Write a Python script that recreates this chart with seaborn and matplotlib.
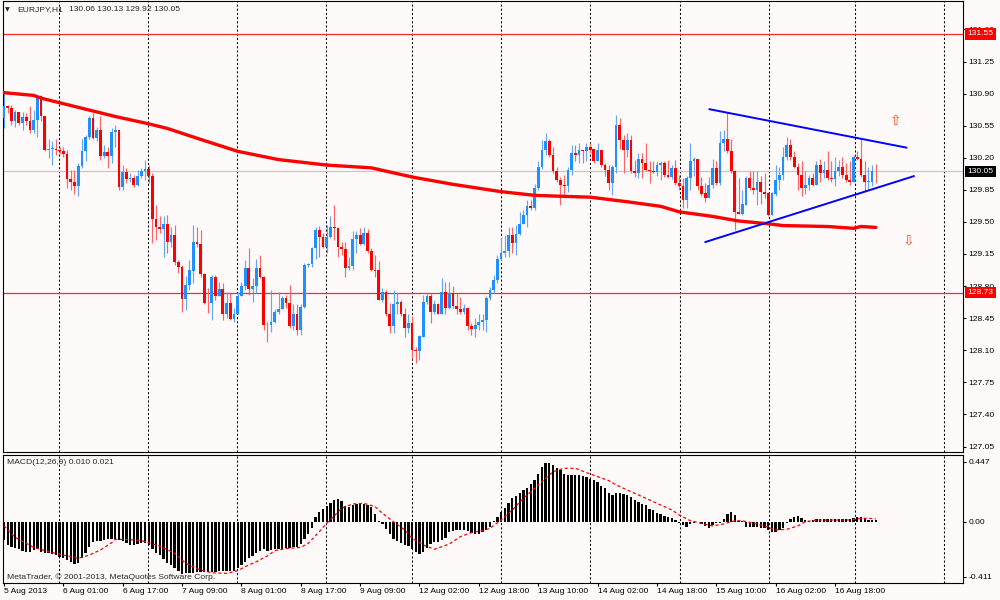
import numpy as np
import matplotlib
matplotlib.use("Agg")
import matplotlib.pyplot as plt
import matplotlib.transforms as mtransforms
import seaborn as sns

# ---------------- data (EURJPY H1) ----------------
opens = [
130.63,130.76,130.74,130.60,130.70,130.58,130.64,130.60,130.50,130.61,
130.87,130.65,130.29,130.30,130.30,130.28,130.27,130.24,129.97,129.93,
129.89,130.11,130.27,130.43,130.63,130.42,130.50,130.22,130.26,130.22,
130.48,130.50,129.88,130.04,129.97,129.98,129.90,130.00,130.05,130.08,
130.00,129.53,129.44,129.42,129.48,129.28,129.36,129.06,129.01,128.66,
128.81,128.97,129.28,129.26,128.93,128.62,128.61,128.90,128.69,128.77,
128.49,128.61,128.44,128.50,128.69,128.80,129.00,128.77,128.80,129.00,
128.90,128.38,128.37,128.41,128.52,128.55,128.67,128.62,128.36,128.49,
128.32,128.57,129.03,129.04,129.21,129.41,129.34,129.23,129.34,129.44,
129.43,129.23,129.20,129.00,129.02,129.31,129.36,129.26,129.38,129.18,
128.98,128.97,128.65,128.74,128.49,128.36,128.60,128.63,128.49,128.34,
128.40,128.10,128.09,128.25,128.63,128.69,128.52,128.60,128.50,128.74,
128.56,128.72,128.58,128.55,128.52,128.56,128.36,128.33,128.38,128.41,
128.43,128.67,128.76,128.87,129.10,129.16,129.18,129.36,129.27,129.37,
129.48,129.58,129.67,129.65,129.87,130.10,130.28,130.38,130.23,130.05,
129.96,129.90,129.89,130.07,130.25,130.23,130.28,130.27,130.32,130.29,
130.16,130.28,130.12,130.07,129.92,130.10,130.56,130.39,130.29,130.39,
130.05,130.03,130.19,130.14,130.07,130.05,130.04,130.12,130.14,130.01,
129.99,130.09,129.92,129.89,129.74,129.98,130.16,130.19,129.89,129.81,
129.76,129.90,130.09,129.92,130.36,130.40,130.27,130.05,129.61,129.59,
129.69,129.98,129.87,129.85,129.94,129.83,129.81,129.58,129.81,129.96,
130.01,130.21,130.34,130.21,130.10,130.01,129.87,129.90,129.98,129.90,
130.12,130.03,130.07,129.98,129.97,130.05,130.10,130.01,129.96,129.94,
130.21,130.19,130.01,129.94,129.94,130.06]

closes = [
130.76,130.74,130.60,130.70,130.58,130.64,130.60,130.50,130.61,130.87,
130.65,130.29,130.30,130.30,130.28,130.27,130.24,129.97,129.93,129.89,
130.11,130.27,130.43,130.63,130.42,130.50,130.22,130.26,130.22,130.48,
130.50,129.88,130.04,129.97,129.98,129.90,130.00,130.05,130.08,130.00,
129.53,129.44,129.42,129.48,129.28,129.36,129.06,129.01,128.66,128.81,
128.97,129.28,129.26,128.93,128.62,128.61,128.90,128.69,128.77,128.49,
128.61,128.44,128.50,128.69,128.80,129.00,128.77,128.80,129.00,128.90,
128.38,128.37,128.41,128.52,128.55,128.67,128.62,128.36,128.49,128.32,
128.57,129.03,129.04,129.21,129.41,129.34,129.23,129.34,129.44,129.43,
129.23,129.20,129.00,129.02,129.31,129.36,129.26,129.38,129.18,128.98,
128.97,128.65,128.74,128.49,128.36,128.60,128.63,128.49,128.34,128.40,
128.10,128.09,128.25,128.63,128.69,128.52,128.60,128.50,128.74,128.56,
128.72,128.58,128.55,128.52,128.56,128.36,128.33,128.38,128.41,128.43,
128.67,128.76,128.87,129.10,129.16,129.18,129.36,129.27,129.37,129.48,
129.58,129.67,129.65,129.87,130.10,130.28,130.38,130.23,130.05,129.96,
129.90,129.89,130.07,130.25,130.23,130.28,130.27,130.32,130.29,130.16,
130.28,130.12,130.07,129.92,130.10,130.56,130.39,130.29,130.39,130.05,
130.03,130.19,130.14,130.07,130.05,130.04,130.12,130.14,130.01,129.99,
130.09,129.92,129.89,129.74,129.98,130.16,130.19,129.89,129.81,129.76,
129.90,130.09,129.92,130.36,130.40,130.27,130.05,129.61,129.59,129.69,
129.98,129.87,129.85,129.94,129.83,129.81,129.58,129.81,129.96,130.01,
130.21,130.34,130.21,130.10,130.01,129.87,129.90,129.98,129.90,130.12,
130.03,130.07,129.98,129.97,130.05,130.10,130.01,129.96,129.94,130.21,
130.19,130.01,129.94,129.94,130.06,130.05]

highs = [
130.92,130.78,130.78,130.72,130.70,130.70,130.69,130.76,130.72,130.89,
130.89,130.65,130.41,130.38,130.40,130.32,130.32,130.29,130.07,130.07,
130.14,130.41,130.45,130.65,130.69,130.54,130.65,130.34,130.32,130.52,
130.56,130.50,130.12,130.09,130.03,130.01,130.07,130.09,130.18,130.12,
130.03,129.69,129.56,129.56,129.58,129.45,129.47,129.09,129.03,128.91,
129.09,129.47,129.45,129.41,128.94,128.78,128.92,128.92,128.85,128.83,
128.74,128.72,128.56,128.74,128.85,129.09,129.21,128.89,129.10,129.14,
128.91,128.41,128.76,128.55,128.74,128.69,128.70,128.81,128.60,128.60,
128.60,129.05,129.05,129.23,129.45,129.46,129.38,129.47,129.57,129.69,
129.45,129.28,129.28,129.12,129.40,129.40,129.43,129.45,129.42,129.21,
129.14,129.07,128.78,128.76,128.61,128.76,128.72,128.65,128.56,128.49,
128.47,128.14,128.27,128.70,128.72,128.72,128.65,128.61,128.89,128.84,
128.84,128.80,128.73,128.68,128.60,128.56,128.40,128.45,128.50,128.50,
128.69,128.79,128.92,129.14,129.34,129.36,129.45,129.45,129.47,129.61,
129.63,129.74,129.74,129.91,130.16,130.39,130.47,130.41,130.32,130.10,
129.99,130.01,130.10,130.34,130.34,130.36,130.28,130.36,130.36,130.30,
130.36,130.30,130.14,130.12,130.12,130.67,130.63,130.45,130.47,130.45,
130.18,130.25,130.25,130.36,130.16,130.16,130.16,130.16,130.16,130.18,
130.12,130.18,130.01,129.98,130.00,130.36,130.21,130.16,129.99,129.92,
129.99,130.19,130.16,130.49,130.50,130.70,130.40,130.07,129.98,129.85,
130.00,130.05,130.05,130.05,130.00,130.03,129.83,129.83,130.12,130.10,
130.32,130.43,130.40,130.27,130.14,130.16,130.05,130.01,130.03,130.16,
130.19,130.16,130.27,130.16,130.21,130.18,130.21,130.14,130.16,130.23,
130.27,130.41,130.16,130.10,130.12,130.13]

lows = [
130.52,130.69,130.56,130.54,130.56,130.50,130.56,130.47,130.47,130.43,
130.60,130.27,130.20,130.12,130.23,130.24,130.21,129.87,129.85,129.80,
129.78,130.09,130.16,130.41,130.40,130.38,130.18,130.20,130.09,130.14,
130.32,129.85,129.85,129.92,129.94,129.88,129.89,129.98,129.96,129.92,
129.27,129.30,129.38,129.12,129.16,129.23,129.03,128.94,128.52,128.54,
128.76,128.83,129.23,128.90,128.60,128.51,128.43,128.65,128.69,128.43,
128.45,128.43,128.41,128.49,128.69,128.76,128.70,128.63,128.72,128.89,
128.32,128.19,128.30,128.40,128.50,128.56,128.56,128.34,128.32,128.27,
128.27,128.56,129.01,129.01,129.10,129.12,129.22,129.16,129.32,129.30,
129.12,129.14,128.90,128.98,128.98,129.16,129.25,129.25,129.16,128.96,
128.90,128.65,128.63,128.47,128.29,128.29,128.49,128.47,128.25,128.29,
128.01,127.96,127.99,128.32,128.60,128.40,128.50,128.49,128.50,128.50,
128.55,128.56,128.50,128.49,128.50,128.32,128.27,128.25,128.32,128.32,
128.30,128.65,128.72,128.83,129.08,129.12,129.12,129.16,129.14,129.36,
129.48,129.45,129.63,129.63,129.85,130.08,130.23,130.21,130.03,129.94,
129.68,129.79,129.83,130.01,130.16,130.14,130.14,130.16,130.25,130.14,
130.18,130.10,130.00,129.85,129.79,130.03,130.30,130.03,130.21,130.03,
129.99,129.98,129.98,130.05,129.92,130.03,130.00,129.96,129.99,129.98,
129.97,129.90,129.85,129.65,129.65,129.85,130.00,129.85,129.78,129.72,
129.78,129.87,129.90,129.90,130.27,130.25,130.03,129.41,129.59,129.58,
129.69,129.85,129.81,129.69,129.70,129.76,129.56,129.58,129.78,129.85,
129.96,130.18,130.18,130.09,129.85,129.78,129.80,129.85,129.89,129.90,
129.94,129.98,129.96,129.94,129.89,130.00,129.98,129.94,129.90,130.12,
130.18,129.99,129.83,129.85,129.89,129.92]

# moving average (thick red line), sampled at bar indices
ma_bars = [0, 8, 10, 17, 26, 30, 39, 44, 53, 63, 74, 87, 99, 110, 121, 134, 143,
           150, 158, 168, 177, 182, 191, 198, 206, 210, 222, 229, 231, 235]
ma_vals = [130.91, 130.88, 130.85, 130.78, 130.69, 130.65, 130.57, 130.52, 130.40,
           130.27, 130.18, 130.12, 130.09, 129.99, 129.91, 129.83, 129.79, 129.78,
           129.77, 129.72, 129.67, 129.61, 129.56, 129.51, 129.48, 129.46, 129.45,
           129.43, 129.45, 129.44]

# triangle trend lines (bar, price)
upper_line_x = [190.1, 243.3]
upper_line_y = [130.73, 130.31]
lower_line_x = [189.0, 245.3]
lower_line_y = [129.28, 130.00]

# arrows (bar, price)
arrow_up = (240.2, 130.60)
arrow_down = (243.7, 129.30)

# horizontal levels
level_top = 131.55
level_bottom = 128.73
bid_price = 130.05

# MACD(12,26,9) histogram, one value per bar
macd_hist = [
-0.137,-0.174,-0.187,-0.199,-0.206,-0.216,-0.224,-0.224,-0.211,-0.206,
-0.224,-0.231,-0.236,-0.241,-0.249,-0.261,-0.274,-0.286,-0.303,-0.318,
-0.306,-0.274,-0.236,-0.187,-0.152,-0.142,-0.142,-0.137,-0.132,-0.127,
-0.127,-0.137,-0.142,-0.162,-0.174,-0.174,-0.169,-0.162,-0.157,-0.177,
-0.206,-0.231,-0.249,-0.281,-0.311,-0.326,-0.348,-0.366,-0.391,-0.386,
-0.383,-0.381,-0.378,-0.378,-0.378,-0.378,-0.376,-0.376,-0.371,-0.368,
-0.366,-0.366,-0.366,-0.348,-0.323,-0.299,-0.274,-0.256,-0.231,-0.219,
-0.206,-0.219,-0.211,-0.206,-0.204,-0.201,-0.197,-0.194,-0.192,-0.187,
-0.167,-0.132,-0.092,-0.050,0.037,0.075,0.095,0.117,0.142,0.164,
0.167,0.157,0.117,0.112,0.122,0.134,0.132,0.129,0.122,0.107,
0.057,0.007,-0.017,-0.055,-0.092,-0.127,-0.142,-0.157,-0.172,-0.182,
-0.201,-0.224,-0.241,-0.224,-0.199,-0.167,-0.152,-0.149,-0.137,-0.124,
-0.080,-0.067,-0.062,-0.062,-0.062,-0.072,-0.082,-0.092,-0.090,-0.080,
-0.065,-0.042,0.002,0.037,0.075,0.104,0.137,0.177,0.194,0.216,
0.239,0.254,0.281,0.311,0.356,0.405,0.435,0.440,0.423,0.398,
0.383,0.356,0.348,0.348,0.348,0.346,0.338,0.333,0.321,0.308,
0.296,0.266,0.251,0.214,0.201,0.211,0.216,0.209,0.197,0.184,
0.159,0.149,0.134,0.122,0.097,0.085,0.067,0.057,0.045,0.037,
0.025,0.012,-0.007,-0.025,-0.040,-0.017,-0.007,-0.002,-0.017,-0.035,
-0.047,-0.027,-0.012,-0.007,0.020,0.055,0.072,0.052,0.005,0.007,
-0.037,-0.042,-0.042,-0.042,-0.045,-0.050,-0.062,-0.077,-0.077,-0.062,
-0.050,-0.007,0.022,0.037,0.042,0.025,0.012,0.007,0.012,0.017,
0.017,0.017,0.017,0.017,0.017,0.017,0.017,0.017,0.017,0.025,
0.037,0.037,0.025,0.012,0.010,0.010]

# MACD signal line (bar, value)
sig_bars = [0,3,8,12,17,20,23,26,29,30,33,37,39,42,46,49,53,56,60,63,
            65,68,71,73,76,80,82,85,87,89,91,94,97,100,102,105,108,110,113,116,
            118,120,123,126,129,131,134,137,140,143,146,148,151,154,157,160,163,165,168,171,
            174,177,180,182,185,188,191,194,197,199,202,205,208,211,214,216,219,222,225,228,
            231,233,235]
sig_vals = [-0.032,-0.117,-0.192,-0.224,-0.256,-0.274,-0.249,-0.211,-0.157,-0.132,
            -0.132,-0.142,-0.157,-0.182,-0.236,-0.311,-0.361,-0.381,-0.386,-0.366,
            -0.336,-0.299,-0.256,-0.216,-0.201,-0.192,-0.162,-0.075,-0.012,0.042,
            0.100,0.132,0.137,0.112,0.062,0.0,-0.062,-0.124,-0.174,-0.206,
            -0.187,-0.167,-0.112,-0.082,-0.067,-0.050,0.012,0.087,0.174,0.249,
            0.323,0.373,0.398,0.398,0.366,0.336,0.306,0.274,0.236,0.199,
            0.162,0.124,0.087,0.050,0.007,-0.012,-0.032,-0.017,0.007,0.007,
            -0.012,-0.032,-0.062,-0.057,-0.032,0.0,0.012,0.012,0.012,0.012,
            0.025,0.025,0.021]

# time axis labels (every 16 bars)
time_label_bars = [0, 16, 32, 48, 64, 80, 96, 112, 128, 144, 160, 176, 192, 208, 224]
time_labels = ["5 Aug 2013", "6 Aug 01:00", "6 Aug 17:00", "7 Aug 09:00", "8 Aug 01:00",
               "8 Aug 17:00", "9 Aug 09:00", "12 Aug 02:00", "12 Aug 18:00", "13 Aug 10:00",
               "14 Aug 02:00", "14 Aug 18:00", "15 Aug 10:00", "16 Aug 02:00", "16 Aug 18:00"]

price_ticks = [127.05, 127.40, 127.75, 128.10, 128.45, 128.80, 129.15, 129.50,
               129.85, 130.20, 130.55, 130.90, 131.25, 131.60]
macd_ticks = [0.447, 0.0, -0.411]
macd_tick_labels = ["0.447", "0.00", "-0.411"]

symbol_text = "EURJPY,H1"
ohlc_text = "130.06 130.13 129.92 130.05"

# ---------------- style ----------------
BG = "#FFFAFA"
sns.set_theme(style="white", rc={"axes.facecolor": BG, "figure.facecolor": BG})
plt.rcParams["font.family"] = ["Liberation Sans", "DejaVu Sans"]
FS = 6.1

W, H = 1000, 600
fig = plt.figure(figsize=(10, 6), dpi=100, facecolor=BG)


def fax(l, t, r, b):
    return [l / W, 1 - b / H, (r - l) / W, (b - t) / H]


ax = fig.add_axes(fax(2.5, 1, 963, 452))
ax2 = fig.add_axes(fax(2.5, 454.5, 963, 582.5))
XLIM = (-0.4, 258.5)

# vertical dashed grid (daily separators, bar positions)
grid_bars = [14.8, 38.8, 62.8, 86.8, 110, 134, 158, 182.2, 206.2, 229.3, 253.3]
for a in (ax, ax2):
    a.set_facecolor(BG)
    for g in grid_bars:
        a.axvline(g, color="black", lw=0.75, ls=(0, (2, 2)), zorder=0.8)
    for s in a.spines.values():
        s.set_visible(True)
        s.set_color("black")
        s.set_linewidth(0.8)
    a.set_xlim(*XLIM)

# ---------------- main price panel ----------------
bars = np.arange(len(closes))
o = np.array(opens)
c = np.array(closes)
h = np.array(highs)
l = np.array(lows)
up = c >= o
body_lo = np.minimum(o, c)
body_h = np.maximum(np.abs(c - o), 0.008)
hi = np.maximum(h, np.maximum(o, c))
lo = np.minimum(l, np.minimum(o, c))

ax.axhline(bid_price, color="#C8C8C8", lw=0.9, zorder=1)
ax.axhline(level_top, color="#FF2A2A", lw=0.9, zorder=1)
ax.axhline(level_bottom, color="#FF2A2A", lw=0.9, zorder=1)

ax.vlines(bars[up], lo[up], hi[up], color="#62A8F2", lw=0.85, zorder=2)
ax.vlines(bars[~up], lo[~up], hi[~up], color="#FF6464", lw=0.85, zorder=2)
ax.bar(bars[up], body_h[up], bottom=body_lo[up], width=0.74, color="#1E90FF",
       linewidth=0, zorder=3)
ax.bar(bars[~up], body_h[~up], bottom=body_lo[~up], width=0.74, color="#FF0000",
       linewidth=0, zorder=3)

sns.lineplot(x=ma_bars, y=ma_vals, ax=ax, color="#FF0000", lw=2.4, legend=False, zorder=4)
sns.lineplot(x=upper_line_x, y=upper_line_y, ax=ax, color="#0000FF", lw=1.4, legend=False, zorder=5)
sns.lineplot(x=lower_line_x, y=lower_line_y, ax=ax, color="#0000FF", lw=1.4, legend=False, zorder=5)

ax.text(arrow_up[0], arrow_up[1], "\u21e7", color="#FF4A1A", fontsize=10,
        ha="center", va="center", family=["DejaVu Sans"], zorder=6)
ax.text(arrow_down[0], arrow_down[1], "\u21e9", color="#FF4A1A", fontsize=10,
        ha="center", va="center", family=["DejaVu Sans"], zorder=6)

ax.set_ylim(126.99, 131.91)
ax.set_xticks([])
ax.yaxis.tick_right()
ax.set_yticks(price_ticks)
ax.set_yticklabels([f"{v:.2f}" for v in price_ticks])
ax.tick_params(axis="y", direction="out", length=2.2, width=0.8, pad=1.5,
               labelsize=FS, colors="black")
ax.set_xlabel("")
ax.set_ylabel("")

trans = mtransforms.blended_transform_factory(ax.transAxes, ax.transData)
for val, fc in [(level_top, "#FF0000"), (bid_price, "#000000"), (level_bottom, "#FF0000")]:
    ax.text(1.0045, val, f"{val:.2f}", transform=trans, ha="left", va="center",
            color="white", fontsize=FS,
            bbox=dict(boxstyle="square,pad=0.28", fc=fc, ec="none"),
            zorder=10, clip_on=False)

# ---------------- MACD panel ----------------
ax2.bar(bars, macd_hist, width=0.62, color="black", linewidth=0, zorder=2)
sns.lineplot(x=sig_bars, y=sig_vals, ax=ax2, color="#FF0000", lw=0.9, legend=False, zorder=3)
ax2.lines[-1].set_linestyle((0, (2.5, 2)))
ax2.set_ylim(-0.454, 0.501)
ax2.yaxis.tick_right()
ax2.set_yticks(macd_ticks)
ax2.set_yticklabels(macd_tick_labels)
ax2.tick_params(axis="y", direction="out", length=2.2, width=0.8, pad=1.5,
                labelsize=FS, colors="black")
ax2.set_xticks(time_label_bars)
ax2.set_xticklabels(time_labels, ha="left")
ax2.tick_params(axis="x", direction="out", length=2.5, width=0.8, pad=1.5,
                labelsize=FS, colors="black", bottom=True)
ax2.set_xlabel("")
ax2.set_ylabel("")

# ---------------- texts ----------------
fig.text(5 / W, 1 - 9.5 / H, "\u25bc", fontsize=4.5, va="center", ha="left",
         family=["DejaVu Sans"])
fig.text(17.3 / W, 1 - 9.5 / H, symbol_text, fontsize=FS, va="center", ha="left")
fig.text(69.3 / W, 1 - 9.5 / H, ohlc_text, fontsize=FS, va="center", ha="left")
fig.text(6.7 / W, 1 - 463 / H, "MACD(12,26,9) 0.010 0.021",
         fontsize=FS, va="center", ha="left")
fig.text(6.7 / W, 1 - 577 / H, "MetaTrader, \u00a9 2001-2013, MetaQuotes Software Corp.",
         fontsize=FS, va="center", ha="left")

fig.savefig("out.png", dpi=100, facecolor=BG)
